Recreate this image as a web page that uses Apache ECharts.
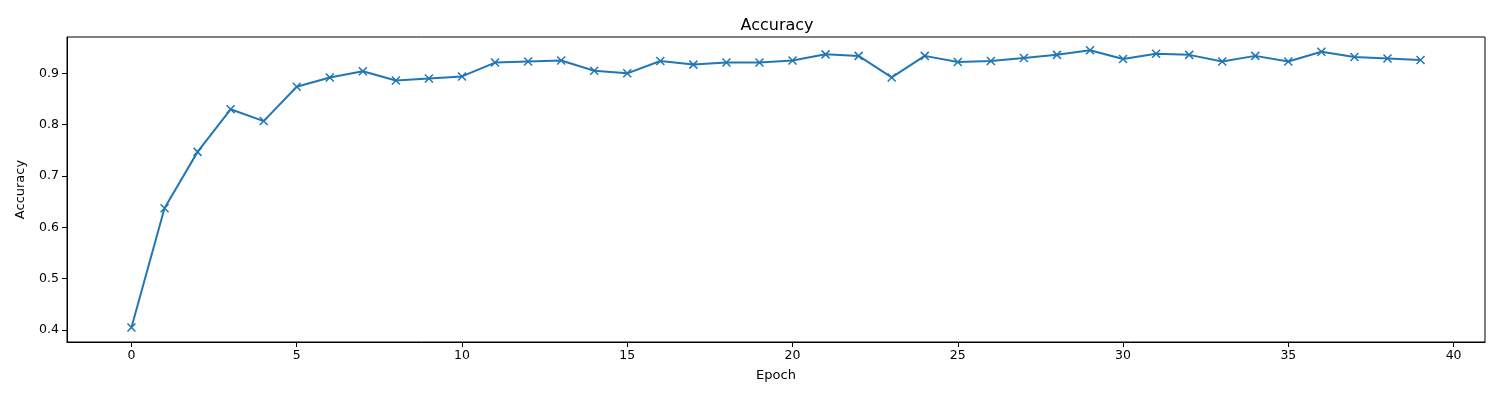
<!DOCTYPE html>
<html>
<head>
<meta charset="utf-8">
<script src="https://cdn.jsdelivr.net/npm/echarts@6/dist/echarts.min.js"></script>
<style>
    html, body { margin: 0; padding: 0; background: #fff; }
    #chart-con { width: 1500px; height: 400px; }
</style>
</head>
<body>
<div id="chart-con"></div>
<script>
//每个epoch的准确率
var epochs = [];
for (var i = 0; i < 40; i++) { epochs.push(i); }
var accuracy = [0.405, 0.637, 0.747, 0.830, 0.807, 0.874, 0.892, 0.904, 0.886, 0.890,
    0.894, 0.921, 0.923, 0.925, 0.905, 0.900, 0.924, 0.917, 0.921, 0.921,
    0.925, 0.937, 0.934, 0.892, 0.934, 0.922, 0.924, 0.930, 0.936, 0.945,
    0.928, 0.938, 0.936, 0.923, 0.934, 0.923, 0.942, 0.932, 0.929, 0.926];
var xTicks = [0, 5, 10, 15, 20, 25, 30, 35, 40];
var yTicks = [0.4, 0.5, 0.6, 0.7, 0.8, 0.9];

var points = [];
for (var k = 0; k < epochs.length; k++) {
    points.push([epochs[k], accuracy[k]]);
}

var dom = document.getElementById("chart-con");
var myChart = echarts.init(dom);
var font = 'DejaVu Sans';

var option = {
    animation: false,
    title: {
        text: 'Accuracy',
        left: 772,
        top: 13,
        textAlign: 'center',
        textStyle: { fontFamily: font, fontSize: 16, fontWeight: 'normal', color: '#000' }
    },
    grid: {
        left: 67, right: 15, top: 37, bottom: 58,
        show: true, borderColor: '#000', borderWidth: 1
    },
    xAxis: {
        type: 'value',
        min: -1.95,
        max: 40.95,
        name: 'Epoch',
        nameLocation: 'middle',
        nameGap: 27,
        nameTextStyle: { fontFamily: font, fontSize: 13, color: '#000' },
        splitLine: { show: false },
        axisLine: { onZero: false, lineStyle: { color: '#000', width: 1 } },
        axisTick: { show: true, length: 5, customValues: xTicks, lineStyle: { color: '#000' } },
        axisLabel: { customValues: xTicks, margin: 7, fontFamily: font, fontSize: 12.5, color: '#000' }
    },
    yAxis: {
        type: 'value',
        min: 0.3766,
        max: 0.9708,
        name: 'Accuracy',
        nameLocation: 'middle',
        nameGap: 40,
        nameTextStyle: { fontFamily: font, fontSize: 13, color: '#000' },
        splitLine: { show: false },
        axisLine: { show: true, onZero: false, lineStyle: { color: '#000', width: 1 } },
        axisTick: { show: true, length: 5, customValues: yTicks, lineStyle: { color: '#000' } },
        axisLabel: {
            customValues: yTicks, margin: 8, fontFamily: font, fontSize: 12.5, color: '#000',
            formatter: function (v) { return v.toFixed(1); }
        }
    },
    series: [
        {
            name: 'Accuracy',
            type: 'line',
            data: points,
            symbol: 'path://M0,0L10,10M10,0L0,10',
            symbolSize: 8,
            showAllSymbol: true,
            lineStyle: { color: '#1f77b4', width: 2 },
            itemStyle: { color: 'none', borderColor: '#1f77b4', borderWidth: 1.5 }
        }
    ]
};

if (option && typeof option === 'object') {
    myChart.setOption(option);
}
</script>
</body>
</html>
